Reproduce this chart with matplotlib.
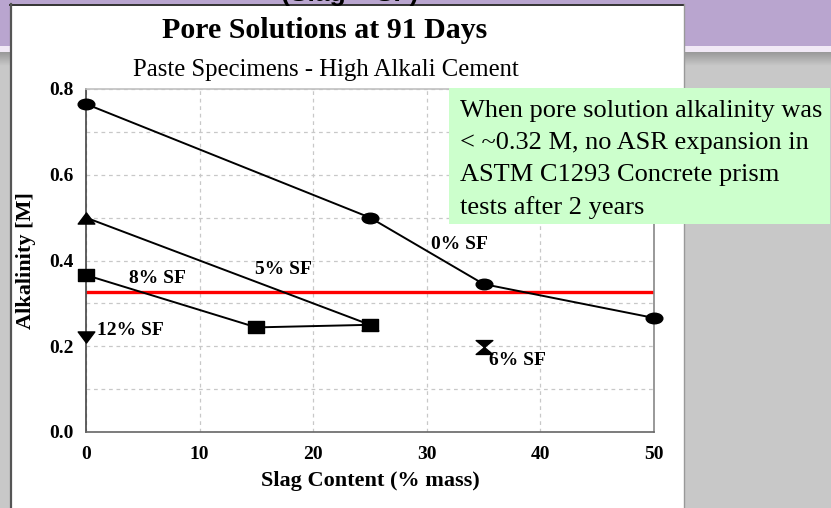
import numpy as np
import matplotlib
matplotlib.use("Agg")
import matplotlib.pyplot as plt
from matplotlib.path import Path
from matplotlib.patches import Rectangle
from matplotlib.transforms import Affine2D

# data
slag_0sf = [0, 25, 35, 50]
alk_0sf = [0.765, 0.50, 0.345, 0.266]
slag_5sf = [0, 25]
alk_5sf = [0.50, 0.25]
slag_8sf = [0, 15, 25]
alk_8sf = [0.366, 0.244, 0.25]
slag_12sf = [0]
alk_12sf = [0.222]
slag_6sf = [35]
alk_6sf = [0.198]
threshold = 0.327

x_ticks = [0, 10, 20, 30, 40, 50]
y_ticks = [0.0, 0.2, 0.4, 0.6, 0.8]

# series labels: text, x, y
series_labels = [
    ("0% SF", 30.4, 0.437),
    ("5% SF", 14.9, 0.378),
    ("8% SF", 3.8, 0.357),
    ("12% SF", 0.95, 0.236),
    ("6% SF", 35.5, 0.166),
]

note_lines = ["When pore solution alkalinity was",
              "< ~0.32 M, no ASR expansion in",
              "ASTM C1293 Concrete prism",
              "tests after 2 years"]

serif = "Liberation Serif"

# markers are a bit wider than tall in the original (stretched slide image)
ellipse = Path.unit_circle().transformed(Affine2D().scale(1.5, 0.95))
rect = Path([(-1.5, -1), (1.5, -1), (1.5, 1), (-1.5, 1), (-1.5, -1)],
            [Path.MOVETO, Path.LINETO, Path.LINETO, Path.LINETO, Path.CLOSEPOLY])
tri_up = Path([(-1.5, -1), (1.5, -1), (0, 1), (-1.5, -1)],
              [Path.MOVETO, Path.LINETO, Path.LINETO, Path.CLOSEPOLY])
tri_down = Path([(-1.5, 1), (1.5, 1), (0, -1), (-1.5, 1)],
                [Path.MOVETO, Path.LINETO, Path.LINETO, Path.CLOSEPOLY])
hourglass = Path([(-1.2, 1), (1.2, 1), (0, 0), (1.2, -1), (-1.2, -1), (0, 0), (-1.2, 1)],
                 [Path.MOVETO, Path.LINETO, Path.LINETO, Path.LINETO,
                  Path.LINETO, Path.LINETO, Path.CLOSEPOLY])

fig = plt.figure(figsize=(8.31, 5.08), dpi=100, facecolor="#c8c8c8")

# slide background, in pixel coordinates
bg = fig.add_axes([0, 0, 1, 1])
bg.set_xlim(0, 831)
bg.set_ylim(508, 0)
bg.axis("off")
bg.add_patch(Rectangle((0, 0), 831, 46, color="#b9a5cf", lw=0))
bg.add_patch(Rectangle((0, 46), 831, 6, color="#f1e9f6", lw=0))
grad = np.linspace(0, 1, 30).reshape(-1, 1)
bg.imshow(grad, extent=(0, 831, 66, 52), cmap=matplotlib.colors.LinearSegmentedColormap.from_list(
    "g", ["#999999", "#c8c8c8"]), aspect="auto")
bg.add_patch(Rectangle((10, 4), 674, 510, facecolor="white", lw=0))
bg.plot([10, 684], [4.5, 4.5], color="#333333", lw=1.4)
bg.plot([10.8, 10.8], [4, 508], color="#555555", lw=1.6)
bg.plot([684, 684], [4, 508], color="#999999", lw=1)
bg.set_xlim(0, 831)
bg.set_ylim(508, 0)

# partly cut slide heading
fig.text(350 / 831, 1 - 0.5 / 508, "(Slag + SF)", ha="center", va="baseline",
         fontsize=19, fontweight="bold", family="Liberation Sans")

fig.text(325 / 831, 1 - 38 / 508, "Pore Solutions at 91 Days", ha="center",
         va="baseline", fontsize=21.5, fontweight="bold", family=serif)
fig.text(326 / 831, 1 - 76 / 508, "Paste Specimens - High Alkali Cement",
         ha="center", va="baseline", fontsize=17.8, family=serif)

ax = fig.add_axes([86 / 831, 76 / 508, 568 / 831, 343 / 508])
ax.set_facecolor("white")
ax.set_xlim(0, 50)
ax.set_ylim(0, 0.8)

ax.set_xticks(x_ticks)
ax.set_xticklabels([str(v) for v in x_ticks])
ax.set_yticks(y_ticks)
ax.set_yticklabels([f"{v:.1f}" for v in y_ticks])
ax.set_yticks([0.1, 0.3, 0.5, 0.7], minor=True)
ax.tick_params(which="both", length=0)
ax.tick_params(axis="x", pad=10)
ax.tick_params(axis="y", pad=9)
for lab in ax.get_xticklabels() + ax.get_yticklabels():
    lab.set_fontfamily(serif)
    lab.set_fontweight("bold")
    lab.set_fontsize(14)

ax.grid(which="both", color="#c8c8c8", lw=0.9, linestyle=(0, (3, 3)))
ax.set_axisbelow(True)

ax.spines["left"].set_color("#444444")
ax.spines["bottom"].set_color("#666666")
ax.spines["right"].set_color("#888888")
ax.spines["top"].set_color("#c0c0c0")
for s in ax.spines.values():
    s.set_linewidth(1.2)

ax.set_xlabel("Slag Content (% mass)", fontsize=16, fontweight="bold", family=serif)
ax.set_ylabel("Alkalinity [M]", fontsize=16, fontweight="bold", family=serif)
ax.xaxis.set_label_coords(0.5, -0.115)
ax.yaxis.set_label_coords(-0.088, 0.5)

ax.plot([0, 50], [threshold, threshold], color="red", lw=2.4, zorder=2.5,
        solid_capstyle="butt")

kw = dict(color="black", lw=1.4, markersize=12, zorder=3, clip_on=False)
ax.plot(slag_5sf, alk_5sf, marker=tri_up, **kw)
ax.plot(slag_8sf, alk_8sf, marker=rect, **kw)
ax.plot(slag_0sf, alk_0sf, marker=ellipse, **kw)
ax.plot(slag_12sf, alk_12sf, marker=tri_down, linestyle="none", **kw)
ax.plot(slag_6sf, alk_6sf, marker=hourglass, linestyle="none", **kw)

for txt, x, y in series_labels:
    ax.text(x, y, txt, ha="left", va="center", fontsize=14,
            fontweight="bold", family=serif, zorder=4)

# green note box (pixel coordinates on the slide), one baseline every 32 px
bg2 = fig.add_axes([0, 0, 1, 1], facecolor="none")
bg2.set_xlim(0, 831)
bg2.set_ylim(508, 0)
bg2.axis("off")
bg2.add_patch(Rectangle((449, 88), 381, 136, facecolor="#ccffcc", lw=0))
for i, line in enumerate(note_lines):
    bg2.text(460, 117 + 32.2 * i, line, ha="left", va="baseline", fontsize=19,
             family=serif, color="black")

fig.savefig("out.png", dpi=100, facecolor=fig.get_facecolor())
